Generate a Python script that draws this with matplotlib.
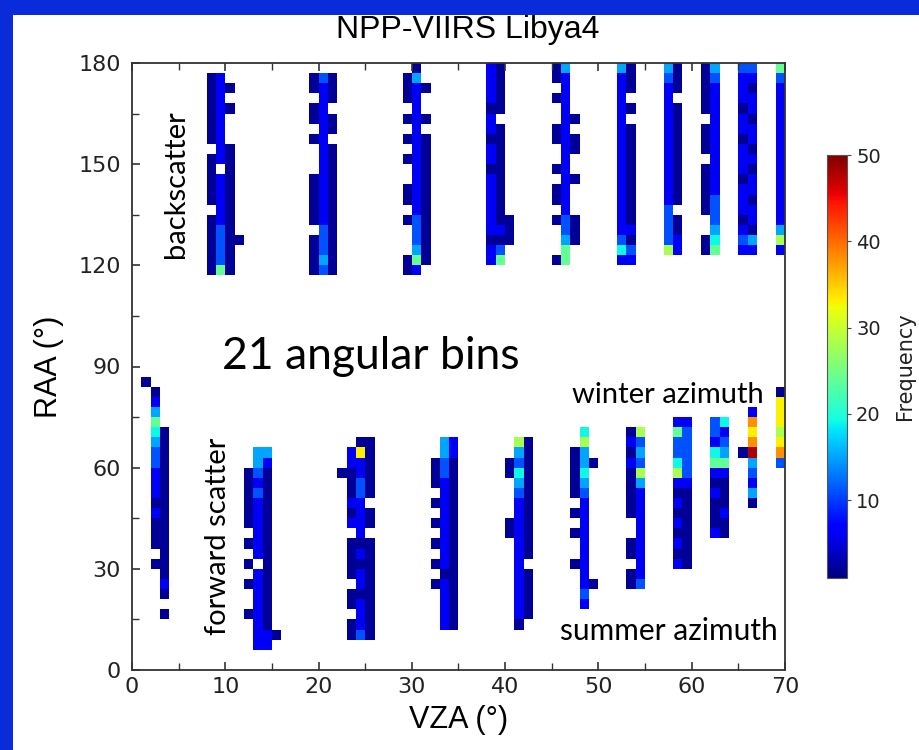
import numpy as np
import matplotlib
matplotlib.use('Agg')
import matplotlib.pyplot as plt
from matplotlib.patches import Rectangle

# bin edges of the 2-D histogram
vza_edges = np.arange(0, 71, 1)
raa_edges = np.arange(0, 181, 3)

# frequency for each colour
levels = {'1': 2, '2': 6, '3': 11, '4': 15, '5': 19, '6': 24,
          '7': 28, '8': 33, '9': 38, 'R': 48}

# each bin: first VZA column, upper RAA edge, rows from top to bottom
# --- backscatter ---
back_08 = ["12  ", "121 ", "12  ", "121 ", "12  ", "12  ", "12  ", " 21 ",
           "121 ", "1 1 ", "121 ", "121 ", "121 ", " 21 ", "121 ", "131 ",
           "1311", "131 ", "131 ", "161 "]
back_19 = ["131", "121", " 21", "12 ", "121", " 21", "12 ", " 21", " 21",
           " 21", "121", "121", "121", "121", "121", " 31", "131", "131",
           "141", "131"]
back_29 = [" 1 ", "14 ", "121", "12 ", " 2 ", "121", " 2 ", "121", " 21",
           "121", " 21", " 21", "121", "121", " 21", "131", " 31", " 31",
           " 41", "161", "12 "]
back_38 = ["21 ", "21 ", "21 ", "21 ", "11 ", "2  ", "21 ", "11 ", "21 ",
           "21 ", "11 ", "21 ", "21 ", "21 ", "21 ", "211", "221", "111",
           "23 ", "26 "]
back_45 = ["14 ", "12 ", " 2 ", "12 ", " 2 ", " 21", "12 ", "121", " 21",
           " 2 ", "12 ", " 21", "12 ", "12 ", " 2 ", "131", " 31", " 41",
           " 6 ", "16 "]
back_52 = ["41", "21", "21", "2 ", "21", "2 ", "21", "21", "21", "21", "21",
           "21", "21", "21", "21", "21", "22", "31", "53", "22"]
back_57 = ["41", "31", "21", "2 ", "21", "21", "21", "21", "21", "21", "21",
           "21", "21", "21", "3 ", "31", "31", "32", "72"]
back_61 = ["14", "13", "12", "12", "12", " 2", "12", "12", "12", " 2", "12",
           "12", "12", "13", "13", " 3", " 4", "15", "16"]
back_65 = ["33", "22", "21", "22", "12", "21", "22", "12", "21", "22", "21",
           "12", "22", "21", "22", "12", "21", "34", "22"]
back_69 = ["6", "3", "2", "2", "2", "2", "2", "2", "2", "2", "2", "2", "2",
           "2", "2", "2", "4", "7", "2"]

# --- forward scatter ---
fwd_01 = ["1  ", " 1 ", " 2 ", " 4 ", " 6 ", " 51", " 41", " 31", " 31",
          " 21", " 21", " 21", " 11", " 21", " 11", " 11", " 11", "  1",
          " 11", "  1", "  2", "  1", "   ", "  1"]
fwd_12 = [" 44 ", " 42 ", "131 ", "121 ", "131 ", "121 ", "121 ", "121 ",
          " 21 ", "121 ", " 21 ", "1 1 ", " 21 ", "121 ", " 21 ", " 21 ",
          "121 ", " 21 ", " 221", " 22 "]
fwd_22 = ["  11", " 281", " 221", "1121", " 131", " 131", " 22 ", " 121",
          " 221", "  2 ", " 111", " 121", " 111", " 121", "  21", " 111",
          " 121", "  21", " 121", " 131"]
fwd_32 = [" 42", " 42", "131", "131", "121", " 21", "121", " 21", "121",
          " 21", "121", " 21", "121", " 11", "121", " 21", " 21", " 21",
          " 21"]
fwd_40 = [" 71", " 41", "131", "151", " 41", " 31", " 21", " 21", "121",
          "121", " 21", " 21", " 2 ", " 21", " 21", " 21", " 21", " 21",
          " 1 "]
fwd_47 = [" 5 ", " 7 ", "14 ", "141", "15 ", "14 ", "13 ", " 2 ", "12 ",
          " 2 ", "12 ", " 2 ", " 2 ", "12 ", " 2 ", " 21", " 3 ", " 2 "]
fwd_53 = ["17", "23", "14", "23", "17", "14", "12", "12", "12", " 2", " 2",
          "12", "12", " 2", "12", "13"]
fwd_58 = ["22", "63", "33", "33", "53", "73", "22", "11", "21", "11", "21",
          "11", "21", "11", "21"]
fwd_62 = ["35", "32", "23", "54", "66", "22", "11", "21", "11", "12", "11",
          "21"]
fwd_65 = [" 2", " 9", " 8", " 9", "1R", " 4", " 3", " 2", " 4", " 1"]
fwd_69 = ["1", "8", "8", "8", "7", "8", "9", "3"]

bins = [(8, 177, back_08), (19, 177, back_19), (29, 180, back_29),
        (38, 180, back_38), (45, 180, back_45), (52, 180, back_52),
        (57, 180, back_57), (61, 180, back_61), (65, 180, back_65),
        (69, 180, back_69),
        (1, 87, fwd_01), (12, 66, fwd_12), (22, 69, fwd_22), (32, 69, fwd_32),
        (40, 69, fwd_40), (47, 72, fwd_47), (53, 72, fwd_53), (58, 75, fwd_58),
        (62, 75, fwd_62), (65, 78, fwd_65), (69, 84, fwd_69)]

H = np.zeros((len(raa_edges) - 1, len(vza_edges) - 1))
for vza0, raa_top, rows in bins:
    for i, row in enumerate(rows):
        r = (raa_top - 3 * (i + 1)) // 3
        for j, ch in enumerate(row):
            if ch != ' ' and vza0 + j < H.shape[1]:
                H[r, vza0 + j] = levels[ch]

fig = plt.figure(figsize=(9.2, 7.5), dpi=100)
fig.patch.set_facecolor('white')
# blue slide border
fig.patches.append(Rectangle((0, 1 - 15 / 750), 1, 15 / 750, transform=fig.transFigure,
                             facecolor='#0a2bd9', edgecolor='none', zorder=-10))
fig.patches.append(Rectangle((0, 0), 13 / 920, 1, transform=fig.transFigure,
                             facecolor='#0a2bd9', edgecolor='none', zorder=-10))

ax = fig.add_axes([132 / 920, 80 / 750, 653 / 920, 607 / 750])
mesh = ax.pcolormesh(vza_edges, raa_edges, np.ma.masked_equal(H, 0),
                     cmap='jet', vmin=1, vmax=50)
ax.set_xlim(0, 70)
ax.set_ylim(0, 180)
ax.set_xticks(np.arange(0, 71, 10))
ax.set_xticks(np.arange(0, 71, 5), minor=True)
ax.set_yticks(np.arange(0, 181, 30))
ax.set_yticks(np.arange(0, 181, 15), minor=True)
ax.tick_params(which='both', direction='in', top=True, right=False,
               color='#333333', labelsize=16, labelcolor='#222222')
ax.tick_params(which='major', length=6, width=1.2)
ax.tick_params(which='minor', length=5, width=1.0)
ax.tick_params(axis='y', pad=8)
ax.tick_params(axis='x', pad=5)
for s in ax.spines.values():
    s.set_color('#333333')
    s.set_linewidth(1.3)

ax.set_xlabel('VZA (°)', family='Liberation Sans', fontsize=22, labelpad=6)
ax.set_ylabel('RAA (°)', family='Liberation Sans', fontsize=22, labelpad=10)
fig.text(468 / 920, 1 - 30 / 750, 'NPP-VIIRS Libya4', family='Liberation Sans',
         fontsize=23, ha='center', va='center')

note = dict(family='Lato', color='black')
ax.text(4.7, 144, 'backscatter', rotation=90, fontsize=21, ha='center', va='center', **note)
ax.text(9.2, 39.5, 'forward scatter', rotation=90, fontsize=21, ha='center', va='center', **note)
ax.text(25.6, 93, '21 angular bins', fontsize=32, ha='center', va='center', **note)
ax.text(57.4, 81.5, 'winter azimuth', fontsize=21, ha='center', va='center', **note)
ax.text(57.5, 11.5, 'summer azimuth', fontsize=21.5, ha='center', va='center', **note)

cax = fig.add_axes([827 / 920, 172 / 750, 20 / 920, 423 / 750])
cb = fig.colorbar(mesh, cax=cax, ticks=[10, 20, 30, 40, 50])
cb.outline.set_edgecolor('#555555')
cb.outline.set_linewidth(0.8)
cax.tick_params(labelsize=14, length=3, color='#444444', labelcolor='#222222')
cb.set_label('Frequency', fontsize=15, color='#222222', labelpad=10)

fig.savefig('out.png', dpi=100, facecolor=fig.get_facecolor())
